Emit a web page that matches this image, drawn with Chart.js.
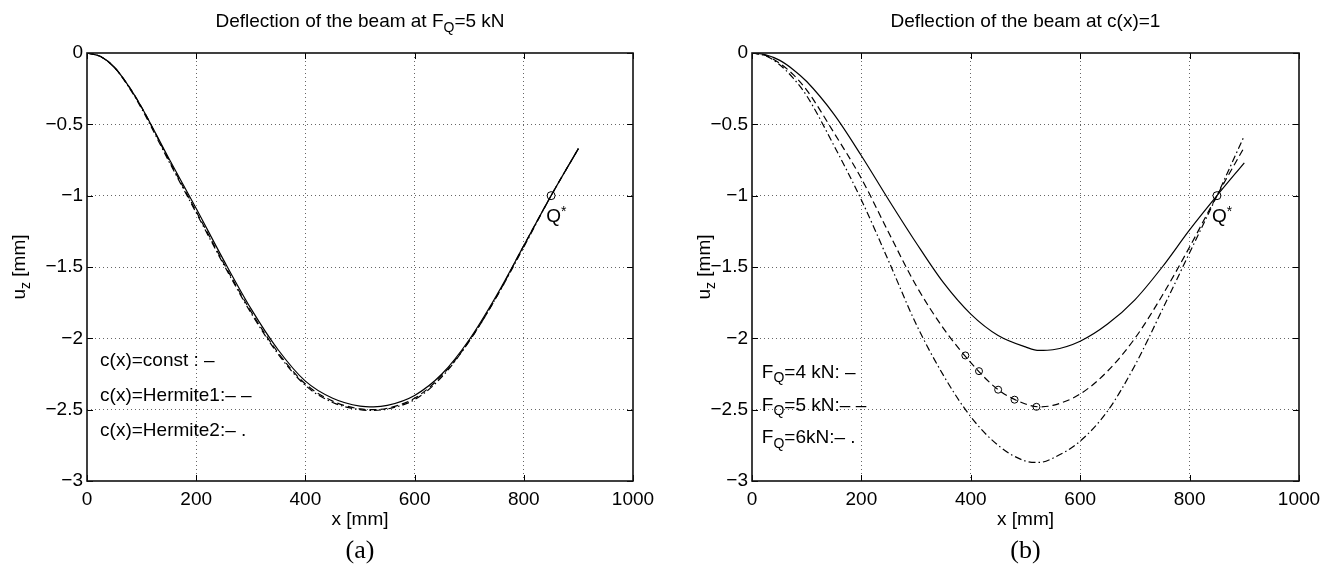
<!DOCTYPE html>
<html><head><meta charset="utf-8">
<script src="https://cdn.jsdelivr.net/npm/chart.js@4/dist/chart.umd.min.js"></script>
<style>
html,body{margin:0;padding:0;background:#fff;}
#wrap{position:relative;width:1337px;height:568px;overflow:hidden;}
canvas{position:absolute;top:0;}
</style></head><body>
<div id="wrap">
<canvas id="ca" width="668" height="568" style="left:0px"></canvas>
<canvas id="cb" width="669" height="568" style="left:668px"></canvas>
</div>
<script>
// ---- data ----
const xs = [0,25,50,75,100,150,200,250,300,350,400,450,500,525,550,600,650,700,750,800,850,900];
const leftConst = [0,-0.025,-0.10,-0.225,-0.38,-0.74,-1.09,-1.45,-1.79,-2.08,-2.30,-2.42,-2.475,-2.48,-2.47,-2.40,-2.25,-2.01,-1.70,-1.35,-1.00,-0.67];
const leftHerm1 = [0,-0.025,-0.10,-0.225,-0.38,-0.75,-1.11,-1.47,-1.81,-2.10,-2.32,-2.44,-2.495,-2.50,-2.49,-2.42,-2.26,-2.02,-1.71,-1.35,-1.00,-0.67];
const leftHerm2 = [0,-0.025,-0.10,-0.23,-0.39,-0.76,-1.12,-1.48,-1.82,-2.11,-2.33,-2.45,-2.50,-2.505,-2.495,-2.43,-2.27,-2.02,-1.71,-1.36,-1.00,-0.67];
const rightF4 = [0,-0.012,-0.05,-0.115,-0.20,-0.43,-0.72,-1.03,-1.33,-1.61,-1.83,-1.98,-2.06,-2.085,-2.08,-2.02,-1.90,-1.73,-1.50,-1.24,-1.00,-0.77];
const rightF5 = [0,-0.017,-0.07,-0.15,-0.26,-0.56,-0.88,-1.26,-1.63,-1.93,-2.17,-2.36,-2.46,-2.48,-2.47,-2.39,-2.23,-2.00,-1.70,-1.36,-1.00,-0.66];
const rightF6 = [0,-0.02,-0.08,-0.175,-0.30,-0.65,-1.03,-1.46,-1.90,-2.26,-2.55,-2.75,-2.86,-2.87,-2.84,-2.72,-2.51,-2.19,-1.80,-1.40,-1.00,-0.58];
const markerX = [390,415,450,480,520];
const markerY = [-2.12,-2.23,-2.36,-2.43,-2.48];
const qStarX = [850];
const qStarY = [-1];
const xTicks = [0,200,400,600,800,1000];
const yTicks = [0,-0.5,-1,-1.5,-2,-2.5,-3];

const FONT = '"Liberation Sans", Arial, Helvetica, sans-serif';
const FS = 19;

function pts(x, y){ return x.map((v,i)=>({x:v,y:y[i]})); }

function lineDs(y, dash){
  return {type:'line', data:pts(xs,y), borderColor:'#000', borderWidth:1.2, borderDash:dash,
    pointRadius:0, fill:false, cubicInterpolationMode:'monotone'};
}
function markDs(x,y,r){
  return {type:'scatter', data:pts(x,y), showLine:false, pointRadius:r, pointHoverRadius:r,
    pointStyle:'circle', borderColor:'#000', backgroundColor:'rgba(0,0,0,0)', borderWidth:1};
}

// draw text made of parts (normal / sub / sup)
function drawParts(ctx, parts, x, y, align){
  let w = 0;
  const fonts = parts.map(p => (p.sub||p.sup) ? (Math.round(FS*0.72)+'px '+FONT) : (FS+'px '+FONT));
  parts.forEach((p,i)=>{ ctx.font = fonts[i]; w += ctx.measureText(p.t).width; });
  let cx = align==='center' ? x - w/2 : x;
  ctx.textAlign = 'left'; ctx.textBaseline = 'middle'; ctx.fillStyle = '#000';
  parts.forEach((p,i)=>{
    ctx.font = fonts[i];
    const dy = p.sub ? 6 : (p.sup ? -5 : 0);
    ctx.fillText(p.t, cx, y+dy);
    cx += ctx.measureText(p.t).width;
  });
}

const deco = {
  id:'deco',
  afterDraw(chart){
    const o = chart.options.plugins.deco;
    const ctx = chart.ctx;
    const {left,right,top,bottom} = chart.chartArea;
    const xs_ = chart.scales.x, ys_ = chart.scales.y;
    ctx.save();
    // inward tick marks
    ctx.strokeStyle = '#000'; ctx.lineWidth = 1; ctx.setLineDash([]);
    ctx.beginPath();
    xTicks.forEach(v=>{ const p = Math.round(xs_.getPixelForValue(v))+0.5;
      ctx.moveTo(p,bottom); ctx.lineTo(p,bottom-6); ctx.moveTo(p,top); ctx.lineTo(p,top+6); });
    yTicks.forEach(v=>{ const p = Math.round(ys_.getPixelForValue(v))+0.5;
      ctx.moveTo(left,p); ctx.lineTo(left+6,p); ctx.moveTo(right,p); ctx.lineTo(right-6,p); });
    ctx.stroke();
    // box
    ctx.lineWidth = 1.6; ctx.strokeStyle = '#111';
    ctx.strokeRect(left, top, right-left, bottom-top);
    // title
    drawParts(ctx, o.title, (left+right)/2, 22, 'center');
    // x title
    drawParts(ctx, [{t:'x [mm]'}], (left+right)/2, 520, 'center');
    // caption
    ctx.font = '26px "Liberation Serif", "Times New Roman", serif';
    ctx.textAlign='center'; ctx.textBaseline='middle'; ctx.fillStyle='#000';
    ctx.fillText(o.caption, (left+right)/2, 551);
    // y title rotated
    ctx.save();
    ctx.translate(o.yTitleX, (top+bottom)/2);
    ctx.rotate(-Math.PI/2);
    drawParts(ctx, [{t:'u'},{t:'z',sub:true},{t:' [mm]'}], 0, 0, 'center');
    ctx.restore();
    // annotations
    o.notes.forEach(n=>{
      drawParts(ctx, n.parts, xs_.getPixelForValue(n.x), ys_.getPixelForValue(n.y), 'left');
    });
    ctx.restore();
  }
};

function makeChart(id, datasets, padLeft, padRight, title, caption, notes, yTitleX){
  return new Chart(document.getElementById(id), {
    data:{datasets},
    options:{
      responsive:false, animation:false, events:[],
      layout:{padding:{top:53,right:padRight,left:0,bottom:0}},
      plugins:{legend:{display:false}, title:{display:false}, tooltip:{enabled:false},
        deco:{title, caption, notes, yTitleX}},
      scales:{
        x:{type:'linear', min:0, max:1000,
          afterBuildTicks: s => { s.ticks = xTicks.map(v=>({value:v})); },
          afterFit: s => { s.height = 568-481; },
          ticks:{font:{family:FONT,size:FS}, color:'#000', padding:7, maxRotation:0,
            callback: v => String(v)},
          grid:{drawTicks:false, lineWidth:1,
            color: c => (c.tick && (c.tick.value===0 || c.tick.value===1000)) ? 'rgba(0,0,0,0)' : '#666'},
          border:{display:false, dash:[1,3]}},
        y:{type:'linear', min:-3, max:0,
          afterBuildTicks: s => { s.ticks = yTicks.slice().reverse().map(v=>({value:v})); },
          afterFit: s => { s.width = padLeft; },
          ticks:{font:{family:FONT,size:FS}, color:'#000', padding:4,
            callback: v => v===0 ? '0' : '\u2212'+String(Math.abs(v))},
          grid:{drawTicks:false, lineWidth:1,
            color: c => (c.tick && (c.tick.value===0 || c.tick.value===-3)) ? 'rgba(0,0,0,0)' : '#666'},
          border:{display:false, dash:[1,3]}}
      }
    },
    plugins:[deco]
  });
}

const DASH = [7,4], DASHDOT = [7,3,1.5,3];

makeChart('ca', [
    lineDs(leftConst, []), lineDs(leftHerm1, DASH), lineDs(leftHerm2, DASHDOT),
    markDs(qStarX, qStarY, 4)
  ], 87, 668-633,
  [{t:'Deflection of the beam at F'},{t:'Q',sub:true},{t:'=5 kN'}], '(a)',
  [
    {x:24, y:-2.16, parts:[{t:'c(x)=const : \u2013'}]},
    {x:24, y:-2.40, parts:[{t:'c(x)=Hermite1:\u2013 \u2013'}]},
    {x:24, y:-2.65, parts:[{t:'c(x)=Hermite2:\u2013 .'}]},
    {x:841, y:-1.15, parts:[{t:'Q'},{t:'*',sup:true}]}
  ], 20);

makeChart('cb', [
    lineDs(rightF4, []), lineDs(rightF5, DASH), lineDs(rightF6, DASHDOT),
    markDs(markerX, markerY, 3.5), markDs(qStarX, qStarY, 4)
  ], 752-668, 669-(1299-668),
  [{t:'Deflection of the beam at c(x)=1'}], '(b)',
  [
    {x:18, y:-2.24, parts:[{t:'F'},{t:'Q',sub:true},{t:'=4 kN: \u2013'}]},
    {x:18, y:-2.47, parts:[{t:'F'},{t:'Q',sub:true},{t:'=5 kN:\u2013 \u2013'}]},
    {x:18, y:-2.70, parts:[{t:'F'},{t:'Q',sub:true},{t:'=6kN:\u2013 .'}]},
    {x:841, y:-1.15, parts:[{t:'Q'},{t:'*',sup:true}]}
  ], 705-668);
</script>
</body></html>
